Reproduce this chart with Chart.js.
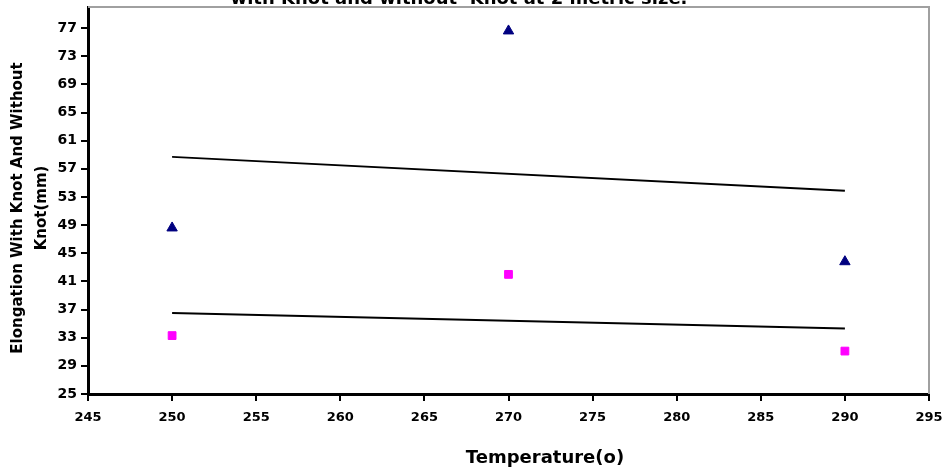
<!DOCTYPE html>
<html>
<head>
<meta charset="utf-8">
<script src="https://cdn.jsdelivr.net/npm/chart.js@4.4.1/dist/chart.umd.min.js"></script>
<style>
  html, body { margin: 0; padding: 0; background: #fff; }
  #wrap { width: 948px; height: 472px; }
</style>
</head>
<body>
<div id="wrap"><canvas id="grafico"></canvas></div>
<script>
// temperatures and elongation readings
const temperaturas = [250, 270, 290];
const conNudo = [48.6, 76.6, 43.8];   // with knot
const sinNudo = [33.3, 42.0, 31.1];   // without knot

// trend line end points
const tendX = [250, 290];
const tendConNudo = [58.7, 53.9];
const tendSinNudo = [36.5, 34.3];

const ticksY = [25, 29, 33, 37, 41, 45, 49, 53, 57, 61, 65, 69, 73, 77];

const titulo = 'with Knot and without  Knot at 2 metric size.';
const tituloY = ['Elongation With Knot And Without', 'Knot(mm)'];
const tituloX = 'Temperature(o)';

const fuente = "'DejaVu Sans', Verdana, sans-serif";

const puntos = (xs, ys) => xs.map((x, i) => ({ x: x, y: ys[i] }));

// titles and the grey frame on top/right
const textos = {
  id: 'textos',
  afterDraw(chart) {
    const { ctx, chartArea: a } = chart;
    ctx.save();
    ctx.strokeStyle = '#a0a0a0';
    ctx.lineWidth = 2;
    ctx.beginPath();
    ctx.moveTo(a.left, a.top);
    ctx.lineTo(a.right, a.top);
    ctx.lineTo(a.right, a.bottom);
    ctx.stroke();

    ctx.fillStyle = '#000';
    ctx.textAlign = 'center';
    ctx.textBaseline = 'alphabetic';
    ctx.font = 'bold 18px ' + fuente;
    ctx.fillText(titulo, 459, 4);

    ctx.font = 'bold 18px ' + fuente;
    ctx.textBaseline = 'middle';
    ctx.fillText(tituloX, 545, 458);

    ctx.font = 'bold 15px ' + fuente;
    ctx.translate(0, 208);
    ctx.rotate(-Math.PI / 2);
    ctx.fillText(tituloY[0], 0, 18);
    ctx.fillText(tituloY[1], 0, 42);
    ctx.restore();
  }
};

new Chart(document.getElementById('grafico'), {
  type: 'scatter',
  data: {
    datasets: [{
      data: puntos(temperaturas, conNudo),
      pointStyle: 'triangle',
      pointRadius: 6,
      backgroundColor: '#000080',
      borderColor: '#000080',
      borderWidth: 1
    }, {
      data: puntos(temperaturas, sinNudo),
      pointStyle: 'rect',
      pointRadius: 5.5,
      backgroundColor: '#ff00ff',
      borderColor: '#ff00ff',
      borderWidth: 1
    }, {
      data: puntos(tendX, tendConNudo),
      showLine: true,
      pointRadius: 0,
      borderColor: '#000',
      borderWidth: 2
    }, {
      data: puntos(tendX, tendSinNudo),
      showLine: true,
      pointRadius: 0,
      borderColor: '#000',
      borderWidth: 2
    }]
  },
  options: {
    responsive: true,
    maintainAspectRatio: false,
    animation: false,
    layout: { padding: { left: 0, right: 19, top: 5, bottom: 0 } },
    plugins: {
      legend: { display: false },
      tooltip: { enabled: false }
    },
    scales: {
      x: {
        type: 'linear',
        min: 245,
        max: 295,
        ticks: {
          stepSize: 5,
          color: '#000',
          padding: 9,
          font: { family: fuente, size: 13, weight: 'bold' }
        },
        grid: { display: true, drawOnChartArea: false, drawTicks: true, tickLength: 7, color: '#000', lineWidth: 2 },
        border: { display: true, color: '#000', width: 3 },
        afterFit(s) { s.height = 78; s.paddingLeft = 0; s.paddingRight = 0; }
      },
      y: {
        min: 25,
        max: 80,
        afterBuildTicks(s) { s.ticks = ticksY.map(v => ({ value: v })); },
        ticks: {
          color: '#000',
          padding: 4,
          font: { family: fuente, size: 14, weight: 'bold' }
        },
        grid: { display: true, drawOnChartArea: false, drawTicks: true, tickLength: 7, color: '#000', lineWidth: 2 },
        border: { display: true, color: '#000', width: 3 },
        afterFit(s) { s.width = 88; s.paddingTop = 0; s.paddingBottom = 0; }
      }
    }
  },
  plugins: [textos]
});
</script>
</body>
</html>
